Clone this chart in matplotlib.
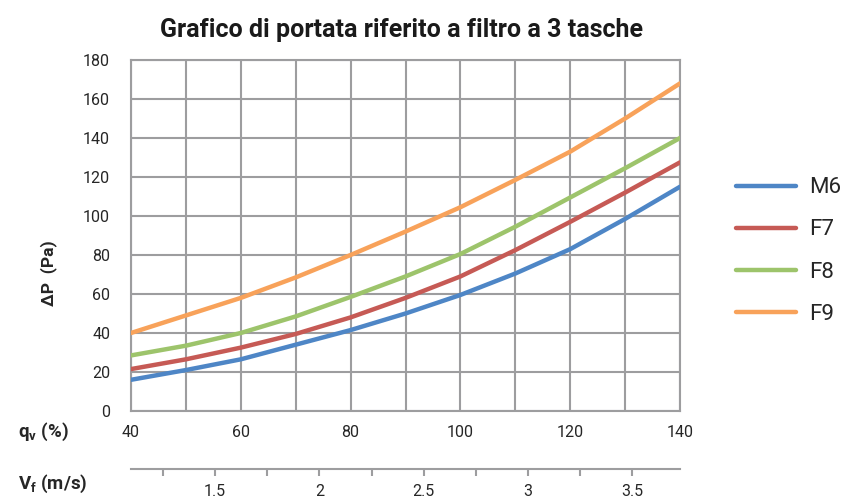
import matplotlib
matplotlib.use("Agg")
import matplotlib.pyplot as plt
from matplotlib.ticker import MultipleLocator

plt.rcParams['font.family'] = ['Roboto', 'DejaVu Sans']
plt.rcParams['mathtext.fontset'] = 'custom'
plt.rcParams['mathtext.rm'] = 'Roboto'
plt.rcParams['mathtext.bf'] = 'Roboto:bold'

# ---------------------------------------------------------------------
# data
qv = [40, 50, 60, 70, 80, 90, 100, 110, 120, 130, 140]
m6 = [16, 21, 26.5, 34, 41.5, 50, 59.5, 70.5, 83, 98.5, 115]
f7 = [21.5, 26.5, 32.5, 39.5, 48, 58, 69, 82.5, 97, 112, 127.5]
f8 = [28.5, 33.5, 40, 48.5, 58.5, 69, 80.5, 94.5, 109.5, 124.5, 140]
f9 = [40, 49, 58, 68.5, 80, 92, 104.5, 118.5, 133, 150, 168]
labels = ['M6', 'F7', 'F8', 'F9']
colors = ['#4E86C6', '#C65A55', '#9DC46B', '#F8A25A']

vf_range = [1.096, 3.73]          # m/s at 40 % and 140 %
vf_ticks = [1.5, 2, 2.5, 3, 3.5]
# ---------------------------------------------------------------------
gridc = '#9d9d9f'
textc = '#262626'

fig = plt.figure(figsize=(8.43, 4.98), dpi=100)
ax = fig.add_axes([131 / 843, 1 - 411 / 498, 549 / 843, 351 / 498])

for ys, lab, c in zip([m6, f7, f8, f9], labels, colors):
    ax.plot(qv, ys, color=c, lw=3.2, label=lab, solid_capstyle='round',
            solid_joinstyle='round', zorder=3)

ax.set_xlim(40, 140)
ax.set_ylim(0, 180)
ax.xaxis.set_major_locator(MultipleLocator(20))
ax.xaxis.set_minor_locator(MultipleLocator(10))
ax.yaxis.set_major_locator(MultipleLocator(20))
ax.grid(True, which='both', color=gridc, lw=1.5)
ax.set_axisbelow(True)
for s in ax.spines.values():
    s.set_color(gridc)
    s.set_linewidth(1.5)
ax.tick_params(which='both', length=0, colors=textc, labelsize=11.5)
ax.tick_params(axis='x', pad=10)
ax.tick_params(axis='y', pad=15)

ax.set_ylabel('ΔP  (Pa)', fontsize=12.5, fontweight='bold', color=textc)
ax.yaxis.set_label_coords(57 / 843, 1 - 273 / 498, transform=fig.transFigure)

fig.text(401 / 843, 1 - 30 / 498, 'Grafico di portata riferito a filtro a 3 tasche',
         ha='center', va='center', fontsize=18, fontweight='bold', color='#1a1a1a')

fig.text(18 / 843, 1 - 432 / 498, r'$\mathbf{q_v}$ (%)', ha='left', va='center',
         fontsize=13.5, fontweight='bold', color=textc)
fig.text(18 / 843, 1 - 484 / 498, r'$\mathbf{V_f}$ (m/s)', ha='left', va='center',
         fontsize=13.5, fontweight='bold', color=textc)

# second x axis for the face velocity
ax2 = fig.add_axes([131 / 843, 1 - 469 / 498, 549 / 843, 0.0001])
ax2.set_xlim(vf_range)
ax2.set_yticks([])
ax2.set_xticks(vf_ticks)
ax2.set_xticklabels([('%g' % v) for v in vf_ticks])
ax2.xaxis.set_minor_locator(MultipleLocator(0.25))
for k in ['top', 'left', 'right']:
    ax2.spines[k].set_visible(False)
ax2.spines['bottom'].set_color(gridc)
ax2.spines['bottom'].set_linewidth(1.5)
ax2.patch.set_visible(False)
ax2.tick_params(which='both', direction='out', length=5, width=1.5,
                color=gridc, labelcolor=textc, labelsize=11.5, pad=6)

fig.legend(loc='center left', bbox_to_anchor=(736 / 843, 1 - 251 / 498),
           frameon=False, fontsize=16, handlelength=2.7, labelspacing=0.95,
           handletextpad=0.6, borderpad=0, borderaxespad=0,
           handles=ax.get_lines(), labelcolor=textc)

fig.savefig('out.png', dpi=100)
